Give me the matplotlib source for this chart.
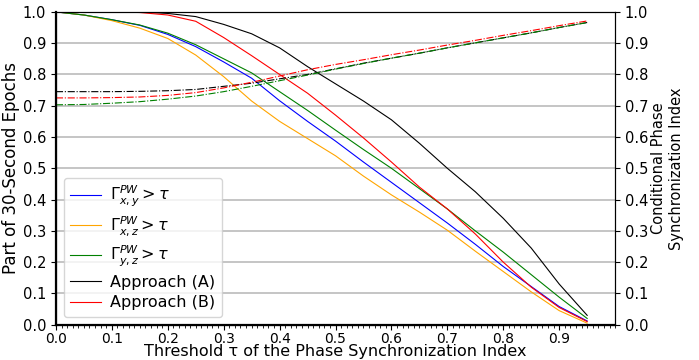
import numpy as np
import matplotlib
matplotlib.use("Agg")
import matplotlib.pyplot as plt
from matplotlib.ticker import MultipleLocator

# thresholds of the phase synchronization index
tau = [0.0, 0.05, 0.1, 0.15, 0.2, 0.25, 0.3, 0.35, 0.4, 0.45,
       0.5, 0.55, 0.6, 0.65, 0.7, 0.75, 0.8, 0.85, 0.9, 0.95]

# part of 30-second epochs above threshold
part_xy = [1.0, 0.99, 0.975, 0.957, 0.928, 0.889, 0.84, 0.788, 0.716, 0.65,
           0.587, 0.52, 0.455, 0.39, 0.325, 0.257, 0.186, 0.122, 0.058, 0.012]
part_xz = [1.0, 0.99, 0.972, 0.948, 0.915, 0.862, 0.793, 0.715, 0.65, 0.595,
           0.54, 0.475, 0.415, 0.36, 0.302, 0.235, 0.17, 0.105, 0.045, 0.005]
part_yz = [1.0, 0.99, 0.975, 0.958, 0.932, 0.895, 0.85, 0.805, 0.745, 0.685,
           0.622, 0.56, 0.5, 0.435, 0.37, 0.30, 0.232, 0.16, 0.088, 0.02]
part_a = [1.0, 1.0, 1.0, 1.0, 0.995, 0.985, 0.96, 0.93, 0.885, 0.825,
          0.77, 0.715, 0.655, 0.58, 0.50, 0.425, 0.34, 0.245, 0.13, 0.03]
part_b = [1.0, 1.0, 1.0, 0.998, 0.99, 0.97, 0.918, 0.86, 0.80, 0.74,
          0.67, 0.597, 0.52, 0.44, 0.37, 0.29, 0.20, 0.12, 0.055, 0.01]

# conditional phase synchronization index
cpsi_a = [0.745, 0.745, 0.745, 0.746, 0.748, 0.752, 0.762, 0.772, 0.786, 0.80,
          0.818, 0.836, 0.852, 0.868, 0.885, 0.901, 0.917, 0.933, 0.95, 0.966]
cpsi_b = [0.725, 0.725, 0.726, 0.728, 0.733, 0.742, 0.757, 0.775, 0.795, 0.815,
          0.832, 0.847, 0.863, 0.878, 0.894, 0.909, 0.925, 0.94, 0.956, 0.971]
cpsi_yz = [0.703, 0.704, 0.708, 0.713, 0.721, 0.731, 0.745, 0.762, 0.78, 0.798,
           0.817, 0.835, 0.852, 0.868, 0.885, 0.901, 0.917, 0.933, 0.95, 0.966]

labels = [r'$\Gamma^{PW}_{x,y} > \tau$', r'$\Gamma^{PW}_{x,z} > \tau$',
          r'$\Gamma^{PW}_{y,z} > \tau$', 'Approach (A)', 'Approach (B)']
colors = ['blue', 'orange', 'green', 'black', 'red']

fig = plt.figure(figsize=(6.99, 3.6), dpi=100)
ax = fig.add_axes([0.080, 0.098, 0.800, 0.869])

for vals, lab, col in zip([part_xy, part_xz, part_yz, part_a, part_b], labels, colors):
    ax.plot(tau, vals, color=col, lw=0.8, label=lab)

ax.set_xlim(0, 1.0)
ax.set_ylim(0, 1.0)
ax.set_xticks(np.arange(0, 0.95, 0.1))
ax.xaxis.set_minor_locator(MultipleLocator(0.01))
ax.set_yticks(np.arange(0, 1.01, 0.1))
ax.yaxis.grid(True, color='#bbbbbb', lw=1.2)
ax.set_axisbelow(True)
ax.spines['left'].set_linewidth(1.6)
ax.spines['bottom'].set_linewidth(1.6)
ax.tick_params(axis='y', labelsize=10.5)
ax.tick_params(axis='x', labelsize=10, pad=1.5)
ax.tick_params(axis='x', which='minor', length=2)
ax.set_xlabel('Threshold τ of the Phase Synchronization Index', fontsize=11.5, labelpad=-1)
ax.set_ylabel('Part of 30-Second Epochs', fontsize=12, labelpad=2)
ax.legend(loc='lower left', fontsize=11.5, handlelength=1.9, borderpad=0.4,
          labelspacing=0.35, handletextpad=0.6, bbox_to_anchor=(0.0, 0.0))

ax2 = ax.twinx()
for vals, col in zip([cpsi_a, cpsi_b, cpsi_yz], ['black', 'red', 'green']):
    ax2.plot(tau, vals, color=col, lw=0.8, ls='-.')
ax2.set_ylim(0, 1.0)
ax2.set_yticks(np.arange(0, 1.01, 0.1))
ax2.tick_params(labelsize=10.5)
ax2.set_ylabel('Conditional Phase\nSynchronization Index', fontsize=10.5, labelpad=2)

fig.savefig('out.png', dpi=100)
